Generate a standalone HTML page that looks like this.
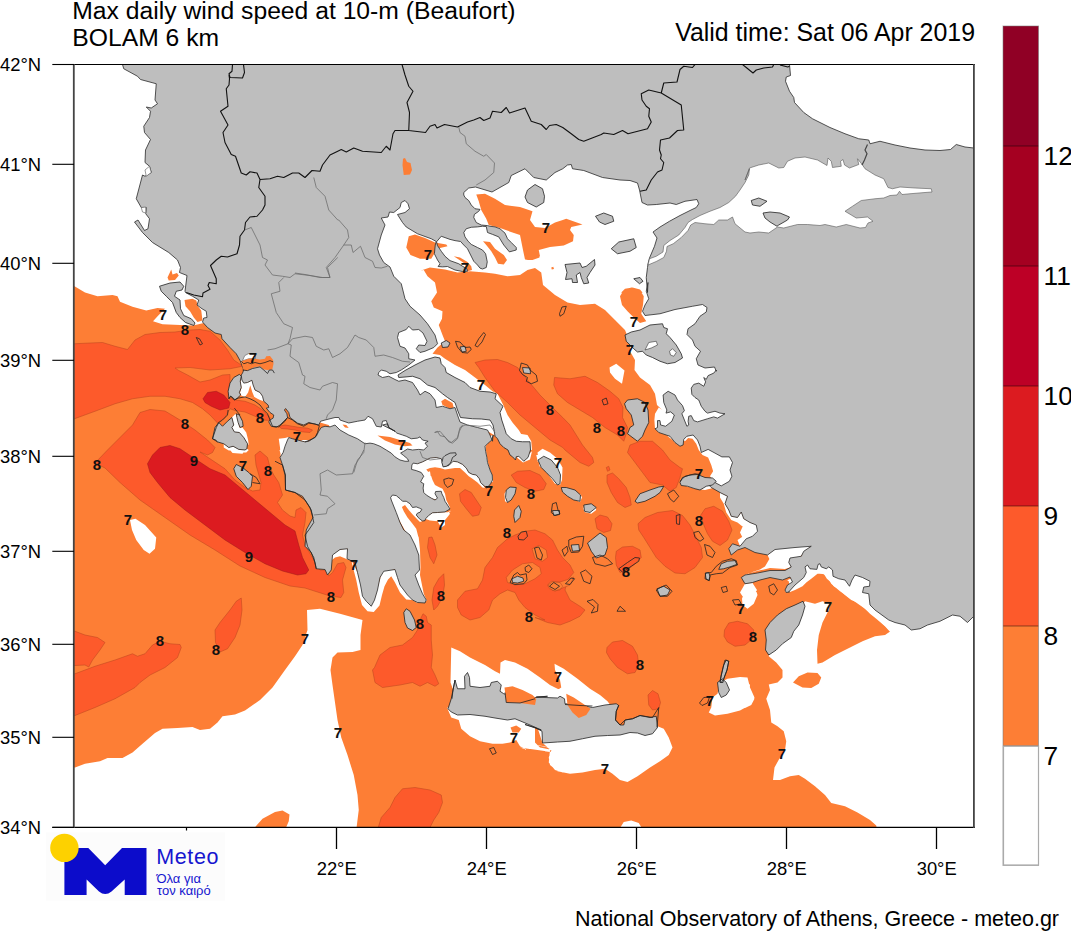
<!DOCTYPE html>
<html><head><meta charset="utf-8"><title>Max daily wind speed</title>
<style>
html,body{margin:0;padding:0;background:#fff;}
body{width:1071px;height:931px;overflow:hidden;position:relative;font-family:"Liberation Sans",sans-serif;}
svg text{font-family:"Liberation Sans",sans-serif;}
</style></head><body>
<svg width="1071" height="931" viewBox="0 0 1071 931" style="position:absolute;left:0;top:0">
<defs><clipPath id="fr"><rect x="74" y="65" width="900" height="762"/></clipPath></defs>
<g clip-path="url(#fr)">
<path d="M74,286.25 L74.5,286.25 L85,292.5 L97.5,296.25 L112.5,295 L117.5,296.25 L120,301.75 L132.5,306.75 L146.25,310.5 L157.5,308 L165,308.75 L158.75,315 L153,321.25 L162.5,324.25 L180,325 L192.5,325.5 L197.5,324.5 L203.75,323 L260,330 L330,300 L400,285 L422.5,270 L430,267.5 L445,269.5 L457.5,272.5 L470,271.25 L485,272.5 L495,273.75 L507.5,276.25 L520,275 L527.5,270 L535,268 L541.25,272.5 L543,285 L555,295 L567.5,302.5 L580,305 L595,303.75 L605,310 L615,320 L625,330 L630,342.5 L630,351.25 L635,360 L634.5,370 L640,377.5 L650,385 L655,393.75 L657,405 L670,417.5 L695,435 L745,430 L820,550 L825,569.5 L820,573.25 L826.25,575 L831.25,583.75 L840,591.25 L852.5,600 L865,608.75 L877.5,618.75 L890.5,631.25 L885,635 L875,636.25 L862.5,641.25 L850,647.5 L835,655 L822.5,662.5 L817.5,663.75 L817,650 L818.75,635 L822.5,622.5 L828.75,610 L830,603.75 L822.5,601.25 L815,603.75 L805,601.25 L782.5,630 L768.75,655 L768.75,656.25 L776.25,662.5 L782.5,670 L782.5,677.5 L777.5,682.5 L768.75,684.5 L770,690 L766.25,698.75 L770,710 L771.25,722.5 L777.5,726.25 L783.75,731.25 L786.25,741.25 L785,750 L780,757.5 L774.5,767.5 L773,780 L780,780 L790,776.25 L798.75,775 L805,778.75 L815,786.25 L825,795 L831.25,803 L845,806.25 L857.5,812.5 L870,820 L876.25,825.5 L877,830 L74,835Z" fill="#fd7e35" stroke="none"/>
<path d="M70,767.5 L75,767.5 L85,763.75 L100,761.25 L107.5,758 L122.5,758 L132.5,752.5 L142.5,743.75 L155,733 L162.5,728.75 L177.5,728 L192.5,727 L200,730 L210,728.75 L217.5,722.5 L222.5,716.25 L235,714.5 L245,710.5 L260,700 L272.5,687.5 L285,670 L295,656.25 L302.5,645 L307.5,630 L307,610 L320,608.75 L340,613.75 L362.5,620 L360.5,635 L360.5,650 L352.5,652 L337.5,652.5 L332.5,657.5 L330.5,670 L332.5,685 L335,702.5 L337.5,720 L341.25,737.5 L347.5,755 L353.75,775 L357.5,795 L358.75,810 L356.25,830 L70,835Z M423.75,270 L427.5,276.25 L435,282.5 L437,292.5 L431.25,301.25 L433.75,307.5 L442.5,311.25 L442,318.75 L438.75,325 L442.5,335 L445,341.25 L437.5,347.5 L432.5,353.75 L440,355 L445,358.75 L455,365 L465,370 L475,377.5 L485,385 L492.5,391.25 L497.5,393.75 L503,404.5 L507.5,415 L512.5,422.5 L518.75,430 L522.5,436.25 L528.75,439.5 L531.25,441.25 L532,450 L520,447.5 L495,435.5 L487.5,431.25 L445,425 L370,415 L370,280Z M318.75,412.5 L370,410 L400,427.5 L431.25,435 L431.25,455 L412.5,466.25 L395,463.75 L365,451.25 L330,433.75 L318.75,433.75Z M411.88,465 L413.12,463.12 L417.5,463.75 L422.5,461.88 L426.25,460 L430,458.12 L436.25,457.5 L441.25,458.75 L443.12,457.5 L445,455.62 L450,453.12 L455.62,452.75 L456.25,455 L453.12,461.25 L457.5,461.88 L462.5,464.38 L466.25,468.12 L468.75,472.5 L472.5,474.38 L476.25,475 L479.38,478.75 L480.62,482.5 L483.12,485 L485,488.12 L482.5,487.5 L477.5,482.5 L472.5,478.75 L468.75,476.25 L465,472.5 L460,468.12 L455,468.12 L450,468.75 L445,469.38 L440,468.12 L435,467.25 L430,468.12 L426.25,469.38 L428.75,472.5 L431.25,476.25 L432.5,480 L435,485 L438.75,486.88 L442.5,488.75 L445,493.75 L446.25,500 L450,507.5 L450,509 L440,500 L425,497.5 L420,482.5 L407.5,467.5Z M428.75,515 L432.5,513.12 L440,512.5 L448.75,511.88 L450,513.75 L447.5,516.88 L445,520 L440,520 L432.5,519.38 L428.75,517.5 L425,518.75Z M388.75,496.25 L390.62,495 L396.25,493.75 L402.5,500 L406.25,500 L410,502.5 L416.25,505.62 L423.12,509.38 L418.75,513.12 L417.5,515 L420,518.12 L422.5,521 L420,521.88 L417.5,519.38 L413.12,515 L408.75,510 L405,505 L401.88,506.88 L403.75,511.25 L407.5,517.5 L412.5,523.75 L416.25,528.75 L418.12,535.88 L418.75,537.5 L420,550 L420.5,567.5 L420,575 L423.75,593.75 L427,601.25 L417.5,595 L412.5,570 L407.5,535 L395,512.5 L390,497.5Z M493.12,435 L491.88,440 L488.12,443.12 L485.62,446.25 L486.25,452.5 L487.5,460 L488.75,466.25 L490.62,471.25 L492.5,476.25 L493.12,481.25 L491.88,482.5 L488.75,480 L482.5,457.5 L482.5,438.75Z M332,560 L332.5,554.5 L340,549.5 L347.5,548.75 L348.75,560 L340,556.25 L335,557.5Z M357.5,572.5 L365,597.5 L371.25,605 L375,597.5 L382.5,570 L397.5,570 L407.5,590 L417.5,603 L412.5,600 L406.25,599.5 L400,592.5 L395,582.5 L391.25,576.25 L388,579.5 L384.5,586.25 L382,595 L379.5,605.5 L373.75,612 L367.5,611.25 L362,605 L358.75,592.5 L356.25,580 L353,567.5 L351.25,560Z M425,518.75 L435,514.5 L445,513.75 L451.25,510.5 L445,516.25 L445,525 L441.25,527.5 L437.5,521.25 L430,520.5Z M423.75,473.75 L430,471.25 L431.25,480 L435,487.5 L440,492.5 L438.75,498.75 L442.5,503.75 L438.75,502.5 L435,496.25 L430,495 L425,487.5 L421.25,480Z M278.75,438.75 L285,438.12 L288.75,436.88 L291.25,437.5 L290,447.5 L285,460 L280.62,456.25 L280,447.5Z M298.75,438.12 L303.75,439.38 L308.75,440 L306.88,442.25 L302.5,441.25Z M320.62,420.62 L325,419.5 L330,418.5 L335,417.5 L338.88,418.75 L342.5,420 L342.5,426.25 L338.88,426.25 L335,423.75 L327.5,421.25 L322.5,420 L320,422.5Z M241.25,375.62 L242.5,380 L245,383.12 L248.75,381.88 L251.88,380.25 L253.5,385.62 L255.25,390.62 L260,392.25 L262.75,396.5 L263.75,401.25 L260,400 L257.5,398.75 L254.38,396.88 L247.5,397.75 L245,396.88 L241.25,395.62 L240,392.5 L241.5,388.12 L240.62,381.88Z M243.12,360 L245,355.62 L248.75,353.75 L248.12,358.75 L245,360Z M231.88,417.5 L235.62,413.75 L237.75,420 L239.38,427.5 L242.5,427.5 L246.25,432.5 L248.12,440 L248.75,445 L247.5,443.75 L243.75,437.5 L239.38,432.5 L234.38,431.88 L231.88,427.5 L233.75,425Z M223.75,443.75 L228.75,447.5 L233.12,446.25 L238.75,449.38 L245,450 L246.88,448.75 L248.75,450 L246.25,452.5 L240,452.5 L233.75,450 L228.75,450.62 L223.75,447.5Z M130,520 L135.5,518.75 L145,525 L156.25,537.5 L155,548.75 L149.5,553.75 L143.75,550 L136.25,540 L132,530Z M230,450 L245,450 L242.5,453.75 L232.5,453Z M279.5,450 L285,450 L284.5,457.5 L281.25,456.25Z M537.5,452.5 L542.5,448.75 L550,452.5 L557.5,458.75 L562.5,467.5 L562,480 L560,485 L555,483.75 L545,470 L539.5,466.25Z M520,433.75 L527.5,435 L531.25,441.25 L528.75,445 L520,445Z M536.25,455 L545,451.25 L555,457.5 L561.25,465 L562,475 L560,476.25 L555,468.75 L547.5,460 L542.5,457 L538,462.5Z M575,496.25 L580.5,494.5 L582,497.5 L580,502 L568.75,497.5Z M585,510 L590,512.5 L595,506.25 L596.25,510 L591.25,513.75 L584.5,512 L582.5,506.25Z M504.5,493.75 L507,489.5 L506.25,500 L508,503 L505,501.25Z M609.5,367.5 L616.25,363.75 L624.5,370.5 L622,383.75 L615,378.75 L610,372.5Z M682.5,440 L686.88,435 L693.75,433.75 L698.75,439.38 L701.88,450 L708.12,448.12 L715,451.88 L721.88,455.62 L730.62,455.62 L734.38,462.5 L731.88,470 L733.75,476.25 L730.62,482.5 L726.25,485 L721.25,486.88 L715,482.5 L710,476.25 L713.12,471.25 L711.25,465 L708.12,457.5 L702.5,455 L698.75,450 L696.25,443.75 L692.5,438.75 L688.12,438.12 L685,441.25Z M658.75,407.5 L666,411.88 L670.62,410.62 L675.62,415 L673.12,421.88 L665.62,427.5 L660.62,426.25 L657.5,428.75 L655,428.75 L654.38,420 L655,413.75Z M666.88,435.62 L670,435.62 L675.62,441.88 L678.12,445.62 L672.5,440Z M690,485 L700,487.5 L710,485 L715,487.5 L705,490 L695,488.75 L682.5,485Z M720,492.5 L727.5,496.25 L725,503.75 L728.75,510 L731.25,516.25 L737.5,517.5 L741.25,512 L743.75,518.75 L750,522.5 L756.25,525 L760,531.25 L755,537.5 L746.25,540 L740,546.25 L737.5,540 L745,535 L743.75,527.5 L737.5,522.5 L731.25,520 L726.25,512.5 L723.75,503.75 L720,497.5Z M767.5,555 L775,548.75 L787.5,546.88 L812.5,545 L805,551.25 L800,556.88 L790.62,558.75 L788.75,561.88 L791.25,566.88 L785,569 L770,568.12 L758.75,570.62 L750,573.12 L742.5,577.5 L740.62,578.75 L745,575 L752.5,571.88 L760,569.38 L765,566.5 L769.38,559Z M787.5,580 L792.5,578.12 L796.88,580.62 L794.38,586.25 L788.75,590.62 L785,591.88 L786.25,586.25Z M743.75,593.75 L747.5,588.75 L755,587 L757.5,595 L753.75,603.75 L747.5,608.75 L742.5,605 L742,598.75Z M745,521.25 L747.5,518.75 L750,525 L756.25,523.75 L757.5,531.25 L752.5,536.25 L747.5,541.25 L745,542.5 L740,532.5Z M788.75,572.5 L805,567.5 L807.5,575 L801.25,585 L792.5,587.5 L787.5,585 L792.5,581.25 L795,575Z M745,583.75 L752.5,583 L757,590 L752.5,597.5 L745,600 L740,592.5Z M451.25,647.5 L460,651.25 L470,657.5 L485,665 L495,671.25 L500,673.75 L500.5,662.5 L505,660 L515,662.5 L527.5,668.75 L540,677.5 L550,685 L560,690 L557.5,690 L561.25,687.5 L560,680 L555,670 L554.5,663.75 L563.75,668.75 L577.5,678.75 L590,688.75 L600,695 L607.5,701.25 L611.25,706.25 L595,712.5 L545,705 L495,695 L455,695 L450.5,682.5Z M447,707.5 L451.25,717.5 L458.75,720 L461.25,728.75 L470,736.25 L480,741.25 L492.5,743.75 L502.5,743.75 L510,742.5 L516.25,740 L520,746.25 L527.5,750 L535,745 L548.75,747.5 L550,743.75 L557.5,730 L645,730 L657.5,726.25 L663.75,728.75 L668.75,737.5 L672.5,747.5 L668.75,755 L660,761.25 L650,767.5 L637.5,776.25 L627.5,782 L620,780 L612.5,773.75 L605,768.75 L595,770 L582.5,772.5 L570,773.75 L557.5,771.25 L550,765 L548.75,757.5 L551.25,750 L545,746.25 L535,745 L527.5,750 L520,747.5 L555,752.5 L550,750 L545,745 L542.5,743 L535,720 L470,712.5Z M550,750 L562.75,745 L567.5,755 L562.75,772.5 L555,770 L548.75,762.5Z M618.75,830 L623.75,822 L631.25,820.5 L638.75,823 L643,830Z M712.5,697.5 L717.5,693.75 L720,682.5 L727.5,678.75 L740,677 L747.5,677.5 L750,687.5 L754.5,697.5 L750,705 L740,710.5 L727.5,713.75 L715,715.5 L708.75,712.5 L711.25,707.5Z M745,677.5 L750,685 L749.5,692.5 L754.5,698.75 L751.25,705 L745,708 L735,702.5 L735,682.5Z M535,725 L545,725 L552.5,730 L552.5,750 L540,747.5 L535,742.5Z M521.25,455 L527.5,455 L532,451.25 L530,459.5 L523,462.5 L517.5,458 L515.5,453.75Z M793.75,583.75 L802.5,575 L806.25,562.5 L820,561.25 L830,565 L833.75,572.5 L845,577.5 L850,582.5 L855,573.75 L862.5,576.25 L870,582.5 L871.25,593.75 L870,606.25 L877.5,613.12 L887.5,620 L893.75,627.5 L890.62,632.5 L885,626.25 L876.25,618.75 L870,613.75 L863.75,607.5 L857.5,602.5 L851.25,600 L845,595 L840,590 L833.75,586.25 L831.25,582.5 L826.88,578.75 L823.75,573.75 L817.5,573.75 L811.25,578.75 L806.25,582.5 L802.5,586.25 L795,590 L788.75,592.5Z" fill="#fff" stroke="none"/>
<path d="M408.75,236.25 L415,234.5 L425,238 L435,242.5 L446.25,244.5 L447.5,246.25 L440,248 L436.25,248 L435,252.5 L431.25,258.75 L420,258.75 L410.5,255 L406.25,247.5Z M453.75,256.25 L460,257.5 L467.5,262 L471.25,266.25 L472,270 L467.5,271.25 L465,263.75 L458.75,259.5Z M483,241.25 L490,242 L495,248.75 L503.75,255 L507,260 L503.75,264.5 L498,263.75 L495,257.5 L491.25,251.25 L486.25,245Z M476.25,194.5 L485,193.75 L495,198.75 L505,205 L520,207 L532.5,211.25 L530,220 L535,227 L545,228 L555,222.5 L562.75,220 L566.25,218.75 L582.5,224.5 L571.25,227 L570,230 L573.75,235 L573,241.25 L563.75,245.5 L550,247 L538.75,250 L540,256.25 L533.75,259.5 L526.25,260 L538.75,252.5 L539.5,257.5 L532.5,260 L525,259.5 L523,250 L520,235 L512.5,232.5 L500,228 L488.75,225 L486.25,218.75 L481.25,210 L478.75,201.25Z M551.25,267.5 L553.25,266.75 L554,269 L551.75,269.5Z M184.5,300 L192.5,298.75 L196.25,300.5 L198,306.25 L201.25,310.5 L202.5,320.5 L197.5,322 L193.75,317.5 L190,311.25 L185.5,306.25Z M171.25,269.5 L172.5,274.5 L177,273 L178.75,275.5 L175,280 L168.75,280.5 L167.5,277.5Z M620,296.25 L623.75,290 L631.25,287.5 L640,290 L643.75,296.25 L643,305 L641.25,313.75 L646.25,321.25 L640,323 L633.75,317.5 L627.5,311.25 L622,305Z M621.25,292.5 L625,288.75 L632.5,287.5 L640,289.5 L642.5,292.5 L637.5,296.25 L627.5,296.25Z M295,423 L305,425 L312.5,423 L320,422.5 L328.75,425 L330,427.5 L322.5,428.75 L316.25,433.75 L310,440 L300,440 L295,438.75 L280,435 L280,427.5Z M342.5,424.5 L346.25,425 L348.75,428 L345,427.5Z M377.5,435.5 L390,437 L400,440 L410,443 L412.5,445.5 L405,446.25 L395,444.5 L385,440.5Z M441.25,401.25 L445,398.75 L452.5,403 L453.75,407.5 L450,408.75 L442.5,405Z M793,682.5 L798.75,676.25 L807.5,672.5 L817.5,673 L821.25,677.5 L818.75,683.75 L811.25,688 L802.5,687.5Z M252.5,830 L262.5,818.75 L275,812 L282.5,810.5 L289.5,814.5 L288.75,821.25 L285,830Z M510.5,727.5 L516.25,725.5 L521.25,728.75 L518.75,732.5 L512.5,732.5Z M757.5,590 L762.5,581.25 L772.5,577.5 L782.5,578 L788.75,581.25 L789.5,586.25 L785,591.25 L775,600 L760,600Z" fill="#fd7e35" stroke="none"/>
<path d="M65,343.75 L74.5,343.75 L90,343 L102.5,342.5 L115,346.25 L127.5,349.5 L135,340 L145,334.5 L160,332.5 L175,332 L190,330 L200,329.5 L210,331.25 L220,340 L227.5,350 L233.75,360 L241.25,365 L242.5,366.25 L230,368.75 L210,370 L190,367.5 L175,368 L178.75,370.5 L187.5,375 L200,382 L210,380 L222.5,375 L230,374.5 L230,380 L228.75,390 L228,397.5 L235,400 L245,401.25 L255,405 L262.5,410 L270,417.5 L270,420.5 L262.5,420 L255,416.25 L245,412 L235,410.5 L230,408.75 L225,417.5 L217.5,423 L210,415 L202.5,408.75 L192.5,402.5 L180,398.75 L165,396.25 L150,396.25 L132.5,398.75 L115,403.75 L95,411.25 L74.5,418.75 L65,420Z M95,463 L107.5,450 L120,437.5 L132.5,425 L140,412.5 L150,409.5 L165,411 L180,420 L195,430 L207.5,440 L215,447.5 L212.5,452.5 L207.5,455 L200,452 L210,458.75 L225,468.75 L235,480 L245,487.5 L252.5,491 L260,490 L261,482.5 L256,465 L255,455 L260,451 L267.5,457.5 L270,467.5 L273.75,475 L278.75,482.5 L282.5,495 L277.5,502.5 L282.5,510 L290,516 L295,517.5 L296,510 L301,507.5 L306,512.5 L305,522.5 L302.5,535 L305,545 L313.75,560 L320,570 L325,570 L328.75,576 L332.5,572.5 L337.5,563.75 L343.75,562.5 L346,567.5 L342.5,580 L343.75,592.5 L341,597.5 L330,596 L317.5,592 L305,588 L290,586 L265,577.5 L240,566 L215,550 L190,535 L165,517.5 L140,500 L120,482.5 L105,468Z M241.25,598 L242,610 L240,625 L235,637.5 L227.5,648.75 L220,652 L215.5,642.5 L215,630 L220,622.5 L230,610 L236.25,601.25Z M65,676.25 L75,673.75 L95,666.25 L115,660 L132.5,653.75 L137.5,656.25 L145,653.75 L152.5,645 L160,641.25 L170,643.75 L180,644.5 L181.25,647.5 L177.5,657.5 L165,667.5 L150,675 L140,682.5 L135,687.5 L115,698.75 L95,707.5 L75,715.5 L65,717.5Z M65,631.25 L75,631.25 L85,635 L97.5,637.5 L105,642.5 L100,650 L92.5,660 L88.75,667 L85,665 L75,665.5 L65,665.5Z M475,362.5 L485,360 L497.5,359.5 L507.5,362.5 L517.5,367.5 L527.5,380 L540,395 L555,410 L562.75,417.5 L570,425 L582.5,445 L592.5,457.5 L593.75,462.5 L588.75,466.25 L580,462.5 L565,450 L562.75,447.5 L550,440 L535,427.5 L520,415 L507.5,402.5 L495,391.25 L485,377.5 L478.75,367.5Z M554.5,377.5 L570,378.75 L585,376.25 L597.5,382.5 L610,391.25 L618.75,398.75 L623,407.5 L622.5,417.5 L627.5,427.5 L626.25,433.75 L623.75,441.25 L617.5,435 L605,427.5 L592.5,417.5 L580,410 L567.5,402.5 L557.5,393.75 L553.75,385Z M630,445 L640,441.25 L652.5,441.25 L662.5,450 L670,460 L680,467.5 L682.5,468.75 L680,477.5 L676.25,487.5 L670,491.25 L662.5,485 L650,482.5 L642.5,472.5 L635,462.5 L627.5,452.5Z M607,475 L612.5,473 L618.75,478.75 L626.25,487.5 L630,497.5 L631.25,505 L625,507.5 L617.5,502.5 L611.25,492.5 L607,482.5Z M606.25,467.5 L608.75,466.25 L610,470 L607.5,471.25Z M374.5,667.5 L380,655 L390,647.5 L402.5,645 L412.5,637.5 L417.5,630 L420,620 L423,613.75 L426.25,616.25 L427.5,622.5 L431.25,625 L431.25,640 L432.5,655 L431.25,667.5 L435,675 L438.75,683.75 L435,686.25 L427.5,682.5 L420,686.25 L412.5,682.5 L400,685 L382.5,687.5 L375,682.5 L372.5,670Z M428.75,537.5 L432,537 L435,545 L437,555 L433.75,563.75 L430,557.5 L427.5,547.5Z M443.75,573.75 L444.5,585 L442.5,597.5 L437.5,606.25 L433.75,610 L432,600 L433.75,587.5 L438.75,578.75Z M459.5,493.75 L465,489.5 L471.25,492.5 L476.25,500 L481.25,507.5 L478.75,515 L472.5,516.25 L466.25,508.75 L460.5,501.25Z M511.25,475 L517.5,471.25 L530,470.5 L540,475 L546.25,483.75 L543.75,489.5 L535,491.25 L525,487.5 L516.25,482.5Z M457.5,600 L465,591.25 L477.5,588.75 L482.5,580 L485,567.5 L492.5,557.5 L497.5,547.5 L507.5,538.75 L515,535 L525,531.25 L535,530 L545,533.75 L552.5,540 L557.5,550 L562.5,557.5 L570,565 L573.75,572.5 L567.5,580 L565,590 L570,600 L580,606.25 L585,610 L580,616.25 L570,621.25 L560,625 L547.5,622.5 L535,617.5 L545,620 L535,615 L525,607.5 L518.75,600 L515,592.5 L507.5,590 L500,593.75 L492.5,600 L488.75,610 L480,617.5 L470,620 L461.25,615 L457.5,607.5Z M595,518.75 L600,515 L607.5,517 L612,523.75 L610.5,530.5 L603.75,532.5 L597,528.75Z M638,523.75 L645,517.5 L657.5,512.5 L672.5,510.5 L682.5,515.5 L690,525 L695,535 L701.25,547.5 L702.5,557.5 L695,567.5 L685,573.75 L675,573 L665,566.25 L656.25,557.5 L650,547.5 L643.75,537.5 L638.75,530Z M700.5,515.5 L705,508.75 L713.75,506.25 L722.5,511.25 L728.75,521.25 L732,530 L727.5,540 L720,545.5 L712.5,541.25 L707.5,533.75 L703.75,525Z M616.25,551.25 L622.5,547 L632.5,546.25 L640,550 L641.25,557.5 L635,563.75 L627.5,570 L620,572.5 L616.25,565 L615.5,557.5Z M607,647.5 L612.5,642 L622.5,640.5 L632.5,646.25 L637.5,655 L638.75,665 L635,672.5 L627.5,673.75 L617.5,667.5 L610,658.75 L606.5,652.5Z M724.5,630 L728.75,623 L737.5,621.25 L747.5,623.75 L753.75,630 L752.5,638.75 L745,645 L735,646.25 L727.5,642 L724,636.25Z M377.5,830 L381.25,817.5 L390,807.5 L395,797.5 L402.5,788.75 L415,787.5 L430,790 L441.25,795 L442.5,802.5 L438.75,812.5 L433.75,820 L428.75,830Z M648,695 L652.5,690.5 L658,693.75 L660.5,702.5 L658.75,708.75 L652.5,710 L648.75,705Z M278.75,426.25 L285,425 L292.5,426.25 L300,427.5 L307.5,428.12 L312.5,430 L310,432.5 L302.5,431.88 L295,430 L287.5,429 L281.25,428.5Z" fill="#fd5a2b" stroke="#b8451f" stroke-width="0.5"/>
<path d="M506.25,577.5 L512.5,570 L522.5,563.75 L532.5,562.5 L540,567.5 L541.25,573.75 L535,578.75 L525,583.75 L515,585 L507.5,582.5Z M532,548.75 L538.75,545.5 L546.25,550 L547.5,557.5 L542.5,561.25 L535,558.75Z M548,585 L552.5,582 L560,582.5 L562.75,586.25 L560,590 L552.5,590.5Z M547.5,585 L551.25,581.25 L560,582 L566.25,580 L573.75,577 L570,585 L562.5,588 L555,591.25 L549.5,588.75Z" fill="#fd7e35" stroke="#b8451f" stroke-width="0.5"/>
<path d="M147.5,463.75 L152.5,455 L160,447.5 L170,445.5 L180,448.75 L195,458.75 L210,468.75 L225,475 L240,487.5 L255,500 L270,512.5 L285,525 L295,531 L298.75,545 L302.5,557.5 L308.75,570 L306,573.75 L297.5,575 L282.5,571 L265,563.75 L245,552.5 L225,540 L205,525 L185,510 L170,497.5 L157.5,482.5 L150,472.5Z M203,398.75 L207.5,392.5 L216.25,391.25 L223.75,395 L230,402.5 L228.75,408 L220,410 L211.25,406.25 L205,402.5Z" fill="#dc1b20" stroke="#9b1a18" stroke-width="0.5"/>
<path d="M122,60 L789,60 L789.5,64.5 L790.5,75.5 L786.25,77 L785.5,81.25 L789.5,91.25 L793.75,97.5 L794.5,102.5 L803.75,112.5 L812.5,118.75 L830,127.5 L845,133.75 L858.75,138.75 L868.75,140 L870,143.75 L880,141.25 L895,145 L910,148 L925,150 L940,150.5 L950.5,149.5 L956.25,144.5 L965,147 L973.75,148 L980,148 L980,615 L977.5,615 L973.75,616.25 L967.5,622.5 L960,616.25 L952.5,615 L940,621.25 L927.5,625 L920,628.75 L911.25,630 L905,625 L895,622.5 L888.75,620 L875,610 L870,605 L868.75,593.75 L862.5,592.5 L863.75,587 L869.5,586.25 L870,581.25 L862.5,577.5 L855,575 L852,580 L849.5,586.25 L845,580 L838.75,578.75 L833,576.25 L832.5,570 L828.75,566.88 L826.25,568.75 L821.25,566.88 L820,563.75 L818.12,564.38 L816.88,569.38 L810,568.75 L807.5,565 L805,566.88 L806.25,572.5 L803.75,577.5 L795,585 L788.75,591.88 L789.5,592 L786.25,592.5 L785,590 L787.5,585 L792.5,582 L790,577 L782.5,580 L770,577.5 L760,580 L752.5,582.5 L745,583.75 L741.25,577.5 L745,575 L757.5,573 L770,570.5 L785,570.5 L791.25,567 L788.75,562.5 L790,558 L801.25,556.25 L803.75,551.25 L811.25,546.25 L795,547.5 L775,549.5 L767.5,555 L755,552.5 L745,547.5 L737.5,550 L731.25,555 L728.75,548.75 L732.5,543.75 L740,546.25 L746.25,538.75 L752.5,536.25 L757.5,531.25 L756.25,525 L750,522.5 L743.75,518.75 L741.25,512 L737.5,517.5 L731.25,516.25 L728.75,510 L725,503.75 L727.5,496.25 L720,492.5 L711.25,487.5 L705,481.25 L710,478.75 L715,482.5 L721.25,485.88 L725,483.75 L729.38,481.25 L731.88,476.25 L730,470 L732.5,462.5 L729.38,456.88 L721.88,456.88 L715,453.12 L708.12,449.38 L701.25,452.5 L700,446.25 L697.5,440 L693.12,435 L686.88,436.25 L683.75,439.38 L683.12,445 L680,446.25 L675,442.5 L670,436.25 L666.25,435 L658.75,432.5 L655,428.75 L657.5,427.5 L657.5,420.62 L660,420.62 L660.62,425 L665.62,426.25 L671.88,421.25 L674.38,415 L670.62,411.88 L666,413.12 L666.88,410 L663.75,402.5 L663.12,395 L668.12,391.25 L675,395 L677.5,400 L682.5,405.62 L684.38,410.62 L681.88,413.75 L684.38,420 L686.88,426.25 L688.75,425 L688.12,421.25 L688.75,416.25 L691.25,415.62 L693.75,420.62 L697.5,421.88 L707.5,418.75 L713.75,416.88 L717.5,418.12 L725,413.75 L720,413.12 L715,411.25 L707.5,413.12 L705,411.25 L701.25,406.25 L698.75,400 L695,397.5 L691.88,394.38 L691.25,388.12 L693.75,384.38 L698.75,383.12 L703.75,386.25 L705.62,381.88 L703.75,377.5 L706.25,379.38 L708.12,375.62 L713.75,373.12 L716.25,370 L716.25,371.25 L714.5,367 L705,368 L698,365 L696.25,358.75 L700.5,351.25 L695,346.25 L692.5,340 L687,334.5 L688,328.75 L695,323.75 L700,316.25 L706.25,312 L707,307.5 L702.5,304.5 L692.5,306.25 L675,309.5 L660,313.75 L645,315.5 L642.5,311.25 L645,305 L648.75,298.75 L646.25,291.25 L648,282.5 L647.5,292.5 L646.25,277.5 L647.5,267.5 L648,263.75 L649.5,258 L654.5,246.25 L657,238 L653,232 L660,227 L669.5,221.25 L680,215.5 L690,210.5 L696.25,207.5 L698.75,203.75 L697,199.5 L685,201.25 L676.25,204.5 L670,203 L656.25,204.5 L647.5,205 L642,202.5 L639.5,190 L637.5,183 L630,180.5 L620,180 L602.5,177.5 L583.75,170.5 L572.5,168.75 L571.25,164.5 L567.5,165 L562.75,168.75 L555,172.5 L546.25,180 L533.75,177.5 L530,173.75 L525,168.75 L511.25,175.5 L508.75,182.5 L492,192 L475.5,187 L468.75,188 L463.75,192.5 L463.75,195 L465,197.5 L468.75,200.62 L471.25,205 L475,208.75 L480,209.38 L478.75,211.25 L474.38,214.38 L473.75,217.5 L476.25,222.5 L481.25,225 L487.5,225.62 L490,226.25 L495,226.88 L500,228.75 L505,233.12 L507.5,238.75 L511.25,242.5 L516.25,247.5 L516.25,250 L509.38,251.88 L503.75,245 L498.75,236.88 L492.5,234.38 L487.5,232.5 L486.25,226.5 L482.5,226.25 L477.5,226.88 L471.25,227.25 L466.25,228.75 L463.75,232.5 L465,236.88 L468.12,241.25 L471.25,244.38 L477.5,247.5 L482.5,250 L485.62,253.75 L487.25,261.88 L486.25,267.5 L482.5,269 L480,268.12 L477.5,265 L473.75,261.25 L470.62,255 L467.5,248.75 L463.75,245 L460.62,241.5 L455,240.62 L450,239.38 L441.25,236.25 L436.5,241.88 L437.5,245.62 L441.25,251.25 L445,256.25 L450,260.62 L458.75,263.75 L462.5,266.25 L466.88,268.75 L467.5,271.25 L462.5,271.5 L455,270 L447.5,266.5 L442.5,266.88 L438.12,266.5 L440,263.75 L437.5,260 L434.38,253.75 L435.25,245 L436.25,241.5 L431.25,238.75 L417.5,233.75 L406.25,227 L402.5,222.5 L397.5,214.5 L405,212.5 L409.5,208.75 L408,203.75 L405,200.5 L401.25,202.5 L400,207.5 L393.75,212.5 L389.5,212 L388,217 L381.25,218 L385,225 L381.25,235 L377.5,248.75 L379.5,255 L383.75,262.5 L390,267 L393.75,276.25 L401.25,283.75 L405,298.75 L410,306.25 L420,315 L427.5,323.75 L435,335 L437.5,343.75 L433.75,347.5 L425,351.25 L420,352.5 L416.25,348.75 L418.75,345 L425,345.5 L427,341.25 L423,333 L418.75,329.5 L412.5,330 L408.75,326.25 L406.25,329.5 L398.75,332.5 L397.5,337.5 L400,346.25 L405,348 L408.75,353.75 L408.75,358.75 L415,360 L408.75,365 L401.25,370 L396.25,372.5 L390,373.75 L386.25,371.25 L381.25,370 L378.75,372.5 L378,375 L382.5,377.5 L388.75,376.25 L395,379.5 L398.75,381.25 L405,380 L412.5,382.5 L417.5,390 L420,395 L425,391.25 L430,393.75 L435,400 L436.25,407.5 L442.5,406.25 L450,408.75 L455,407.5 L457.5,415 L460,422 L467.5,425 L477.5,427.5 L487.5,430 L490,435 L492.5,441.25 L493.12,435 L491.88,440 L488.12,443.12 L485,446.25 L485.62,451.25 L486.88,457.5 L487.5,462.5 L488.75,466.25 L490,470 L492.25,475 L492.5,480 L490.62,483.75 L486.88,488.12 L483.12,485 L480.62,482.5 L479.38,478.75 L476.25,475 L472.5,474.38 L468.75,472.5 L466.25,468.12 L462.5,464.38 L457.5,461.88 L453.12,461.25 L451.25,463.12 L448.75,465.62 L443.75,466.5 L442.25,462.5 L441.25,458.75 L436.25,457.5 L430,458.12 L426.25,460 L422.5,461.88 L417.5,463.75 L413.12,463.12 L411.88,465 L411.5,469.38 L416.25,470.62 L421.25,472.5 L423.75,476.25 L421.88,479.38 L420.62,481.88 L423.75,483.75 L423.12,488.12 L423.75,492.5 L426.25,495 L431.25,498.12 L435,500 L437.5,498.12 L435,493.75 L435.62,491.5 L441.25,491.25 L441.88,493.75 L443.75,497.5 L445,501.25 L447.5,505 L450,509 L445,511.88 L437.5,512.5 L432.5,512.75 L428.5,515.62 L425.62,518.75 L425,520.62 L422.5,521 L419.38,518.75 L416.25,515 L417.5,513.12 L420,512.25 L421.88,509.38 L419.38,508.12 L416.25,506.88 L412.5,507.5 L410,503.75 L406.25,501.25 L402.5,501.25 L400,498.75 L396.25,495.62 L392.5,495 L390.62,497.5 L391.25,500 L396.25,512.5 L400,522.5 L403.75,530 L410,535 L415,545 L418.75,555 L419.5,570 L415,575 L418.75,585 L422.5,593.75 L426.25,600 L425,603 L417.5,602.5 L412.5,600 L407.5,595 L400,585 L397.5,577.5 L395,569.5 L383.75,571.25 L380,577.5 L377.5,590 L374.5,600 L371.25,606.25 L366.25,601.25 L362.5,596.25 L360.5,585 L357.5,572.5 L355,562.5 L347,558.75 L347.5,548.75 L340,549.5 L332.5,555 L331.25,570 L327.5,575 L325,569.5 L316.25,568.75 L315,562.5 L311.25,552.5 L305,546.25 L306.25,530 L313,517.5 L310,507.5 L302.5,496.25 L295,492.5 L285.5,490 L285,475 L282.5,465 L280,457.5 L283.12,452.5 L285,446.25 L287.5,440 L288.75,437.5 L292.5,438.75 L297.5,440 L305,441.88 L308.75,441.25 L312.5,438.75 L316.25,436.25 L318.75,431.25 L321.25,427.5 L325,426.25 L330,426.88 L335,425 L340,430 L348.75,435 L357.5,438.75 L365,443.75 L370,443.12 L373.75,443.75 L380,446.25 L386.25,450 L391.25,453.12 L395,456.88 L400,460 L405,461.25 L408.75,461.25 L407.5,458.75 L403.75,455.62 L400.62,453.12 L403.75,451.25 L407.5,449 L412.5,450 L418.75,449.38 L423.75,450 L427.5,446.25 L425,443.12 L428.12,441.25 L422.5,440 L420,436.88 L417.5,438.12 L411.25,438.75 L406.25,436.25 L402.5,435 L396.88,433.12 L395,431.25 L388.75,427.5 L387.5,423.75 L382.5,425 L395,431.25 L388.75,427.5 L386.25,420.5 L382.5,421.25 L381.25,427 L376.25,426.25 L372.5,418.75 L368,416.25 L365,420 L357.5,421.25 L348.75,423 L340,420 L338.88,417.5 L335,417.5 L330,418.75 L325,420 L320.62,421.25 L318.75,425 L313.75,423.75 L308.75,422.5 L303.75,425 L297.5,423.12 L295,421.25 L290,417.5 L288.75,412.5 L285.62,408.5 L284.38,410 L286.88,413.75 L287.5,417.5 L285,420 L280,425 L276.25,427.25 L271.25,426.25 L268.75,421.88 L270,420 L273.12,418.12 L273.75,415 L270,412.5 L266.25,408.12 L268.75,407.5 L268.12,405 L263.75,401.25 L262.5,396.25 L260,392.5 L255,390 L253.12,385 L251.88,380.25 L247.5,382.5 L243.75,383.12 L241.88,380 L241.25,375 L242.5,373.12 L243.75,370 L241.88,365 L240,360.5 L236.25,353.75 L230,347.5 L222,338.75 L221.25,334.5 L215,333 L207.5,327.5 L202.5,322 L203.75,318 L207,317.5 L206.25,311.25 L202,308.75 L197,305 L198.75,300 L192.5,296.25 L185.5,292.5 L185,291.25 L187,275.5 L179.5,272.5 L180.5,267.5 L177.5,260 L168.75,252.5 L152.5,242.5 L142.5,232.5 L134.5,222 L138,220 L144.5,230.5 L148,228.75 L149.5,218.75 L145.75,213.75 L146.25,207.5 L141.25,207.5 L136.25,198.75 L142.5,175 L145,176.25 L151.25,172.5 L149.5,166.25 L145,162.5 L145.5,150 L150.5,139.5 L144.5,132.5 L143.75,126.25 L149.5,117.5 L150.5,111.25 L146.25,107 L151.25,108 L157.5,103.75 L155,100 L156.25,83.75 L140.5,79.5 L137.5,76.25 L123.75,68.75 L122.5,64.5Z" fill="#bebebe" stroke="#2a2a2a" stroke-width="0.8" stroke-linejoin="round"/>
<path d="M745,180 L749.5,168 L758.75,165 L768.75,163 L778.75,168 L783.75,167.5 L787.5,161.25 L795,158 L805,157 L817.5,160 L827,165.5 L828,158 L831.25,161.25 L832.5,167.5 L841.25,166.25 L840.5,161.25 L843,159.5 L844.5,165 L849.5,168 L858.75,164.5 L857.5,158.75 L860.5,162.5 L862.5,165 L865,168.75 L875,175 L883.75,178.75 L888,187.5 L892.5,188.75 L900,187 L915,188 L931.25,188.75 L932,192 L925,192.5 L910,193.75 L902,194.5 L899.5,191.25 L897,195 L890,195.5 L883.75,198 L875,198.75 L861.25,200.5 L852.5,206.25 L845,211.25 L851.25,215 L856.25,218 L867.5,217 L873,221.25 L868,223 L865.5,227.5 L860,228 L846.25,224.5 L836.25,227 L825,224.5 L820,225.5 L807.5,224.5 L797.5,224.5 L783.75,228 L777.5,227 L768.75,233 L758.75,232 L750,233 L745,232 L735,223.75 L732.5,217 L727.5,220 L718.75,220 L713.75,224.5 L705,223.75 L695,222.5 L690.75,225 L688,230.5 L681.25,237.5 L673.25,243.75 L667,246.5 L666.5,251.25 L663.75,257.5 L656.25,261.5 L648,265 L649.5,258.75 L656.25,256.25 L663,252 L663.75,245.5 L670,240.5 L678.75,235 L685,227.5 L688,222.5 L692.5,219.5 L700,215.5 L710,211.25 L720,207.5 L728.75,202.5 L735.5,196.25 L740,190 L745,182.5 L748.75,175 L749.5,168.75Z M145,170 L149.5,166.25 L151.25,172.5 L146.25,176.25Z M141.25,207.5 L145.75,207 L145.75,213 L142.5,212Z M242.5,360.62 L244.75,355.62 L248.75,353.5 L255,353.5 L255.62,358.75 L248.75,358.75 L245,360Z" fill="#fff" stroke="#555" stroke-width="0.6"/>
<path d="M867.5,144.5 L865,150 L867,153.75 L864.5,160 L862,165" fill="none" stroke="#444" stroke-width="1.2"/>
<path d="M159.5,286.25 L170,283 L180,282 L183.75,286.25 L182,290 L176.25,291.25 L174.5,296.25 L180,300 L180.5,308.75 L183.75,315.5 L191.25,318.75 L195,323 L193.75,325.5 L185.5,322.5 L180,317.5 L176.25,312.5 L172.5,302.5 L166.25,296.25 L161.25,291.25Z M229,398.75 L228.12,391.25 L230,383.12 L233.75,377.5 L239.38,374.38 L241.25,376.25 L240.25,381.25 L241.25,387.5 L239.38,392.5 L240.62,395 L237.75,397.75 L235,399.75 L231.88,396.88 L230.62,396.25Z M212.5,438.75 L215,427.5 L218.75,422.5 L222.5,426.25 L227.5,421.25 L231.88,417.5 L233.75,425 L231.88,427.5 L234.38,431.88 L239.38,432.5 L243.75,437.5 L247.5,443.75 L246.88,448.75 L245,450 L238.75,449.38 L233.12,446.25 L228.75,447.5 L223.75,443.75 L217.5,441.88 L215.62,440Z M236.25,413.75 L239.38,415 L242.5,421.25 L243.12,426.25 L240,427.5 L238.12,422.5 L236.88,417.5Z M233.75,468.75 L236.25,464.5 L242.5,467.5 L248.75,472.5 L252.5,476.25 L251.25,486.25 L248,489.5 L242.5,482.5 L236.25,476.25Z M398,375 L405,370.5 L415,365 L425,360 L435,357 L440,358 L441.25,363.75 L445,367.5 L446.25,372.5 L455,377.5 L465,382.5 L470,387.5 L480,391.25 L490,392 L496.25,393.75 L495,398.75 L503,406.25 L500,412.5 L501.75,420 L504.25,427.5 L506.25,433.75 L511.25,438.75 L516.25,441.25 L522.5,441.75 L530,441.75 L530.5,450 L528,457.5 L523.75,461.25 L521.25,458.75 L518.75,456.25 L516.25,456.75 L515.5,460 L512.5,456.75 L510,455 L508,450 L503.75,447.5 L500,443.75 L497.5,438.75 L495,436.25 L494.25,431.25 L493,425 L490,420 L481.25,419 L472.5,418.75 L460.5,417.5 L457.5,410 L455,402.5 L447.5,397.5 L442.5,393.75 L435,387.5 L427.5,385 L420,378.75 L412.5,376.25 L405,377 L398.75,377.5Z M441.88,462.5 L443.12,457.5 L445,455.62 L450,453.12 L455.62,452.75 L456.25,455 L452.5,457.5 L451.25,461.25 L450,463.75 L446.25,466.25 L443.12,466.88Z M535,184.5 L542.5,188.75 L544.5,196.25 L543.75,202.5 L536.25,207 L527.5,202.5 L525,197 L527.5,190Z M595.5,216.25 L603.75,213 L612.5,216.25 L613.75,221.25 L605,224.5 L599.5,222Z M611.25,248.75 L618.75,242 L633.75,238.75 L636.25,247.5 L630,251.25 L617.5,253.75Z M565,264.5 L580,263 L582,267.5 L586.25,266.25 L594.5,259.5 L595,265 L590,272.5 L587,277.5 L588.75,283 L583.75,283.75 L581.25,277.5 L580,272.5 L576.25,275 L577.5,282.5 L572.5,282.5 L572,278.75 L565.5,279.5 L567,272.5Z M633.75,278.75 L640,277.5 L643,281.25 L639.5,283.75Z M751.25,200.5 L758.75,198 L767,201.25 L760,206.25 L752.5,205Z M763,213 L770,212 L780,213 L789.5,217 L787.5,220 L778.75,225 L777,226.25 L770,222 L765,218Z M625,335 L631.25,332 L640,330 L650,325 L662.5,323.75 L663.75,327.5 L667.5,328.75 L666.25,333.75 L670,337.5 L676.25,345 L681.25,353.75 L682.5,358 L675,362.5 L667.5,363.75 L660,361.25 L652.5,357.5 L646.25,355 L642.5,351.25 L637.5,352 L633.75,348.75 L630,345 L626.25,341.25Z M624.5,403.75 L627.5,400 L637.5,398.75 L645,402.5 L648,410 L648.75,422.5 L645,430 L642.5,436.25 L637.5,441.25 L627.5,433.75 L630,427.5 L633.75,425 L631.25,415 L626.25,408.75Z M538,460 L543.75,456.25 L551.25,460 L557.5,467.5 L560.5,475 L560,483.75 L557.5,485 L552.5,478.75 L546.25,472.5 L541.25,467.5Z M680,482.5 L682.5,477.5 L690,475 L697.5,474.5 L705,477.5 L712.5,478 L716.25,481.25 L712.5,485 L706.25,486.25 L700,490 L695,488.75 L687.5,486.25 L681.25,485.5Z M635,501.25 L640,493.75 L650,490 L658.75,487 L663.75,486.25 L660,492.5 L655,496.25 L645,501.25 L637.5,503Z M561.25,487.5 L566.25,487.5 L575,490 L580.5,495 L580,501.25 L573.75,500 L567.5,496.25 L562.5,492Z M587.5,543 L600,533 L606.25,537.5 L607.5,547.5 L605,555 L596.25,558 L591.25,551.25Z M718.75,569.38 L721.25,563.75 L727.5,561.25 L735,560.62 L736.88,564.38 L730,566.88 L723.75,568.75Z M705.25,573.12 L708.75,572.5 L710,576.25 L708.75,580.62 L706,578.75Z M765,630 L770,622.5 L777.5,615 L786.25,608.75 L795,605 L803,601.25 L805,606.25 L802.5,615 L798.75,625 L793.75,631.25 L791.25,637.5 L782.5,643.75 L776.25,650 L768.75,655 L765.5,650 L766.25,640Z M717.5,682.5 L722.5,678.75 L726.25,682.5 L729.5,690 L726.25,695 L721.25,697.5 L718.75,692.5Z M403.75,612.5 L406.25,608.75 L410,611.25 L414.5,620 L416.25,627.5 L412.5,630.5 L407.5,628 L405,622.5Z M506.25,490 L510,487 L516.25,487.5 L515,493.75 L511.25,500 L507.5,502.5 L505.5,497.5Z M514.5,510 L518.75,505.5 L521.25,511.25 L520,517.5 L515,522.5 L513.75,516.25Z M448,708.75 L451.25,698.75 L455,680 L457.5,688.75 L465,688.75 L464.5,676.25 L467.5,672.5 L469.5,677.5 L470,686.25 L480,687.5 L490,686.25 L491.25,682.5 L497.5,681.25 L501.25,685 L500,691.25 L503.75,693.75 L515,696.25 L535,697.5 L547.5,696.25 L536.25,697 L545,697.5 L557.5,698 L560,696.25 L564.5,698.75 L565,703.75 L580,705 L592.5,707.5 L605,705 L616.25,703.75 L618.75,705.5 L616.25,711.25 L615.5,720 L620,725 L623.75,725 L625,720 L632.5,718.75 L640,715.5 L650,717.5 L656.25,716.25 L657.5,727.5 L652.5,733.75 L645,735.5 L637.5,733 L630,732.5 L620,735 L607.5,735.5 L595,736.25 L582.5,738.75 L570,741.25 L557.5,742 L542.5,743 L542,731.25 L535,727.5 L525,724.5 L541.25,730 L530,725 L515,718.75 L507.5,720 L495,718 L485,716.25 L470,714.5 L457.5,715 L451.25,712Z M552.5,510.5 L559.5,510.5 L559.5,514.5 L553.75,515.5Z M583.75,505 L591.25,503.75 L596.25,507.5 L590,512.5 L584.5,511.25Z M571.25,545 L578.75,544.5 L579.5,550.5 L572.5,551.25Z M657,588.75 L663.75,586.25 L670,590 L667.5,595 L660,596.25Z M512,578.75 L517.5,576.25 L523,578 L523.75,581.25 L517.5,583 L512.5,582.5Z M441.25,343 L446.25,340.5 L450,343 L448,347 L442.5,347.5Z M460,347 L465,346.25 L466.25,351.25 L462,352Z M522.5,367.5 L530,368 L530.5,373.75 L523.75,373Z M720,682.5 L721.25,675 L723.75,665 L726.25,660 L728.75,661.25 L727,670 L723.75,678.75 L723,682.5Z" fill="#bebebe" stroke="#222" stroke-width="0.8" stroke-linejoin="round"/>
<path d="M645,350 L648.75,342.5 L656.25,341.25 L657.5,345 L651.25,348Z M669.5,351.25 L672.5,348.75 L676.25,352.5 L673.75,356.25 L670.5,355Z" fill="#fff" stroke="#333" stroke-width="0.6"/>
<path d="M455.5,341.25 L460,342 L465,347.5 L470,347 L471.25,349.5 L467.5,353 L462,352.5 L457.5,347Z M475,345.5 L478.75,338.75 L483.75,332.5 L485.5,334.5 L482,342 L477.5,347Z M521.25,363 L527.5,365 L530,370 L536.25,375 L537.5,381.25 L531.25,383.75 L526.25,381.25 L527.5,377.5 L522.5,374.5 L519.5,370.5Z M559.5,313.75 L562,307 L566.25,306.25 L563.75,313.75 L560,316.25Z M602,400 L606.25,398 L608,403.75 L603.75,405Z M443.75,479.5 L448.75,478 L453.75,479.5 L452,485 L447.5,487.5 L444.5,483.75Z M518,536.25 L521.25,532 L526.25,531.25 L527.5,536.25 L523.75,540 L518.75,539.5Z M534.5,548 L538.75,547 L542.5,555 L541.25,560 L537,558Z M510,582.5 L513.75,575 L517.5,572.5 L520,575 L526.25,573.75 L527,580 L523.75,583.75 L515,584.5Z M525,567.5 L528.75,565 L532,568.75 L528.75,572.5 L525.5,571.25Z M552.5,503.75 L556.25,502.5 L558,510 L560,513.75 L555,515.5 L551.25,512.5Z M568.75,540 L576.25,537 L583.75,536.25 L582.5,546.25 L578.75,552 L571.25,552.5 L568.75,546.25Z M562,550 L567,546.25 L568,551.25 L564.5,556.25Z M580.5,572.5 L585.5,570 L592,576.25 L590,583.75 L583.75,581.25Z M618.75,568.75 L627.5,562.5 L635,557.5 L639.5,558 L638.75,561.25 L631.25,566.25 L622.5,572Z M587,601.25 L593,599.5 L598,604.5 L597.5,611.25 L591.25,613 L594.5,607Z M617,611.25 L620,606.25 L625.5,611.25Z M656.25,590 L661.25,587 L666.25,585 L672,591.25 L667.5,596.25 L660,596.25Z M549.5,586.25 L553.75,582.5 L559.5,586.25 L555,589.5Z M565.5,583.75 L571.25,578 L574.5,578.75 L570,584.5Z M693.75,532.5 L698.75,531.25 L703.75,538.75 L700,541.25 L695,537.5Z M704.5,544.5 L710,546.25 L715,552.5 L712.5,557.5 L707,555Z M721.25,587.5 L726.25,586.25 L727.5,591.25 L723,592.5Z M732.5,600 L738.75,599.5 L741.25,603.75 L735,605Z M768.75,586.25 L773.75,583.75 L777.5,590 L773.75,595 L770,592.5Z M667.5,493.75 L673.75,490 L678.75,496.25 L673.75,502 L670,498.75Z M676.25,515.5 L680,514.5 L679.5,524.5 L676.5,523.75Z M699.5,703 L703.75,697.5 L709.5,697 L707.5,703 L702,705.5Z M489.5,748.75 L493.75,747.5 L496.25,753 L492.5,754.5Z M196.25,337.5 L199.5,338.75 L202.5,343.75 L200,345Z M592.5,557.5 L600,555 L607.5,558.75 L612.5,563.75 L605,566.25 L595,563.75Z M725,660 L728.75,661.25 L727,670 L723.75,678.75 L721.25,682.5 L720,681.25 L723,667.5Z M705,578.75 L705.62,573.12 L711.25,572.5 L716.25,566.25 L722.5,561.25 L731.25,558.75 L736.25,560.62 L737.5,565 L730,567.5 L722.5,573.12 L716.25,573.75 L710,575 L709.38,580.62Z" fill="none" stroke="#222" stroke-width="0.8" stroke-linejoin="round"/>
<path d="M241.25,361.25 L245,360 L248.75,358.75 L255,358.75 L260,359.38 L265,358.75 L266.25,356.25 L270,356 L273.12,360 L273.5,363.75 L272.25,369.38 L267.5,370 L263.75,369.38 L260,366.5 L255,366.88 L251.25,368.75 L246.25,371 L243.5,369.75 L242.25,365.62Z M504.5,687.5 L512.5,686.25 L522.5,690 L532.5,695 L536.25,698.75 L535,705 L520,703 L506.25,702.5Z M566.25,693.75 L573.75,697.5 L585,705 L590.5,708.75 L586.25,715 L578.75,718 L572.5,712.5 L567.5,705Z M620,708.75 L623.75,712.5 L626.25,719.5 L621.25,718.75 L619.5,713.75Z M403,158.75 L405,158 L407,162 L410.5,163 L412,170 L410,174.5 L403.75,175 L402.5,165Z M250.25,385.25 L252.25,391.88 L254.38,397.25 L247.5,397.75 L245,396.88 L248.12,392.5Z" fill="#fd7e35" stroke="none"/>
<path d="M455,680 L453,690 L452,698.75 M505,692.5 L506.25,702.5 L520,703 L535,698.75 M565,704.5 L580,705.5 L592.5,706 M618.75,705 L616.25,711.25 L615.5,720 L620,725 L625,720 L632.5,718.75 L640,715.5 L652.5,717.5 L658.75,707.5 L657,727.5 M680,481.25 L685,476.25 L695,473.75 L700,474.5 M241.25,361.25 L243.75,363.75 L247.5,362.5 L251.25,363.75 L255,362.5 L260,363.75 L265,362.5 L270,360.62 L273.12,361.88 M242.5,370 L247.5,370.62 L252.5,368.5 L260,366.88 L263.75,370 L267.5,373.5 L269.38,370 L272.5,370 L274.38,373.12 M228.75,398.75 L230.62,396.25 L234.38,400 L238.12,398.12 L245,396.88 L250,398.75 L255,401.25 L260,405 L263.75,410 L267.5,413.75 L270,420 L272.5,426.25 M272.5,426.25 L278.75,426.88 L285,421.25 L287.5,417.5 M287.5,417.5 L292.5,420 L297.5,423.75 L303.75,426.25 L308.75,423.12 L315,424 L319.38,425.62 L317.5,432.5 L315,437.5 L310,440 L305,441.88 M228.12,410 L227.5,415 L222.5,420 L218.75,422.5 L216.25,427.5 L212.5,438.75 L217.5,441.88 M234.38,408.12 L236.88,411.25 L240,415 M250,473.75 L256.25,477.5 L260,483.75 L252.5,482.5 M275,461.25 L282.5,465 L285.5,475 L285.5,490 L295,492.5 L305,500 L311.25,510 L313.75,522.5 L308.75,530 L305,535 L307.5,546.25 L313.75,557.5 L316.25,568.75" fill="none" stroke="#222" stroke-width="0.8" stroke-linejoin="round"/>
<path d="M232.5,64.5 L232,71.25 L229,73.75 L230,77.5 L242.5,78 L244.5,72.5 L243.5,64.5 M229,75 L229.5,78.75 L229,85 L226.25,88.75 L228,106.25 L220.5,111.25 L228,125 L223,132.5 L225,142.5 L231.25,154.5 L235.5,156.25 L241.25,173 L246.25,175 L250,171.75 L257,173 L260,179.5 M260,179.5 L270,178.75 L277.5,176.25 L283.75,177.5 L292.5,173 L298.75,173 L305,177.5 L312,170.5 L320,171.25 L322.5,165 L330,155 L337.75,151.25 L341.25,149.5 L346.25,152 L353.75,148 L362.5,151.25 L381.25,152.5 L386.25,146.25 L390,150 L393,133.75 L395,130.5 L408.75,130.5 L425.5,132.5 L430,126.25 L435,124.5 L437,128 L444.5,124.5 L457.5,127 L467.5,122 L473.75,120 L480,117.5 L483.75,120.5 L490,118 L492.5,111.25 L501.25,112.5 L506.25,107.5 L509.5,113 L525,108 L531.25,121.25 L541.25,124.5 L546.25,129.5 L549.5,125.5 L556.25,124.5 L562.75,127.5 L571.25,133.75 L578.75,139.5 L583.75,141.25 L601.25,134.5 L603.75,133 L613.75,134.5 L622.5,130.5 L628,133.75 L647.5,128.75 L651.25,122 L648.75,116.25 L649.5,108.75 L646.25,106.25 L642,100 L641.25,93.75 L648.75,90 L661.25,93 M260,179.5 L258.75,187.5 L265,196.25 L265,205 L262.5,210 L257,216.25 L250,217 L245.5,222.5 L244.5,230 L240,236.25 L239.5,245 L237,253.75 L227.5,257 L221.25,256.25 L216.25,260 L210.5,265.5 L216.25,278.75 L216.25,283.75 L209.25,282.5 L208,285.5 L210,289.25 L203,293 L202.5,296.75 L193.75,295 L186.25,292.5 M408.75,130.5 L409.5,112.5 L407,102.5 L413,91.25 L408.75,86.25 L405,75 L402,64.5 M661.25,93 L663.75,83 L677,82 L680,69.5 L683.75,66.25 L692.5,67.5 L695,64.5 M742.5,64.5 L746.25,67.5 L753,73 L756.25,70 L763.75,68 L772.5,67 L773.75,64.5 M780,65 L787.75,67 L789.5,66.25 M661.25,93 L681.25,105 L683.75,130 L677.5,130.5 L669.5,138 L660.5,140 L659.5,150 L661.25,155 L660.5,158.75 L663.75,162.5 L662,170 L657.5,172 L651.25,180 L646.25,190 L640,191.25" fill="none" stroke="#111" stroke-width="1.1" stroke-linejoin="round"/>
<path d="M313.75,177.5 L316.25,187.5 L325,196.25 L328.75,210 L337.75,220 L338.75,220 L347.5,230 L348.75,237.5 L343.75,245 L335,257.5 L326.25,267.5 L330,277.5 L320,277.5 L305,274.5 L295,273 M244.5,230 L251.25,227.5 L260,245 L262.5,257.5 L267.5,260 L265,265 L272.5,275 L282.5,276.25 L290,277.5 L295,273.75 L310,275.5 L322.5,277.5 L330,277.5 L327.5,267.5 L337.75,257.5 M343.75,245 L351.25,245 L353,252.5 L360.5,246.25 L365,257.5 L372.5,261.25 L375,267.5 L381.25,268 L387.5,266.25 M458.75,127 L460,132.5 L465,136.25 L466.25,143.75 L475,151.25 L483.75,156.25 L486.25,154.5 L494.5,163 L493.75,172.5 L485,180 L476.25,185 M283.75,277.5 L278.75,282.5 L280,291.25 L271.25,293.75 L276.25,312.5 L283.75,323.75 L292.5,327.5 L290,338.75 L288,343.75 L291.25,345 M267.5,350 L275,348.75 L288,343.75 L292.5,338.75 L305,336.25 L312.5,337.5 L316.25,346.25 L323.75,350 L328.75,348.75 L332.5,357.5 L340,353.75 L347.5,347.5 L355,335 L358.75,337.5 L366.25,340 L373.75,347.5 L375,356.25 L383.75,355 L392.5,357.5 L402.5,361.25 L410,362 M291.25,345 L290,356.25 L298.75,362.5 L302.5,375 L305,376.25 L303.75,383.75 L310,387.5 L320,390 L322.5,386.25 L332.5,382.5 L337.5,383.75 L336.25,400 L332.5,410 L327.5,415 L326.25,418.75 M435,432.5 L440,431.25 L447.5,440 L451.25,442.5 L457.5,437.5 L460,427.5 L465,425 L480,426.25 L490,425 L495,432.5 M365,442.5 L363.75,452.5 L357.5,460 L353.75,472.5 M420,451.25 L422.5,457.5 L430,460 L440,458.75 M320,473.75 L327.5,470 L336.25,475 L352.5,473.75 L355,465 L360,457.5 L363.75,450 M320,473.75 L321.25,490 L320,495 L327.5,496.25 L335,503.75 L327.5,508.75 L326.25,513.75 L313.75,515 M434.38,432.5 L437.5,431.25 L440,435.62 L445,436.88 L448.75,441.88 L452.5,443.12 L457.5,438.75 L459.38,431.25 L462.5,425" fill="none" stroke="#6a6a6a" stroke-width="0.75" stroke-linejoin="round"/>
<text x="546" y="233.3" font-size="15" font-weight="bold" text-anchor="middle" fill="#111">7</text>
<text x="428" y="260.3" font-size="15" font-weight="bold" text-anchor="middle" fill="#111">7</text>
<text x="465" y="273.3" font-size="15" font-weight="bold" text-anchor="middle" fill="#111">7</text>
<text x="163" y="320.3" font-size="15" font-weight="bold" text-anchor="middle" fill="#111">7</text>
<text x="185" y="335.3" font-size="15" font-weight="bold" text-anchor="middle" fill="#111">8</text>
<text x="253" y="363.3" font-size="15" font-weight="bold" text-anchor="middle" fill="#111">7</text>
<text x="634" y="327.3" font-size="15" font-weight="bold" text-anchor="middle" fill="#111">7</text>
<text x="630" y="355.3" font-size="15" font-weight="bold" text-anchor="middle" fill="#111">7</text>
<text x="481" y="390.3" font-size="15" font-weight="bold" text-anchor="middle" fill="#111">7</text>
<text x="550" y="415.3" font-size="15" font-weight="bold" text-anchor="middle" fill="#111">8</text>
<text x="645" y="412.3" font-size="15" font-weight="bold" text-anchor="middle" fill="#111">7</text>
<text x="597" y="433.3" font-size="15" font-weight="bold" text-anchor="middle" fill="#111">8</text>
<text x="621" y="436.3" font-size="15" font-weight="bold" text-anchor="middle" fill="#111">8</text>
<text x="260" y="423.3" font-size="15" font-weight="bold" text-anchor="middle" fill="#111">8</text>
<text x="185" y="429.3" font-size="15" font-weight="bold" text-anchor="middle" fill="#111">8</text>
<text x="297" y="442.3" font-size="15" font-weight="bold" text-anchor="middle" fill="#111">7</text>
<text x="402" y="450.3" font-size="15" font-weight="bold" text-anchor="middle" fill="#111">7</text>
<text x="97" y="470.3" font-size="15" font-weight="bold" text-anchor="middle" fill="#111">8</text>
<text x="194" y="466.3" font-size="15" font-weight="bold" text-anchor="middle" fill="#111">9</text>
<text x="243" y="471.3" font-size="15" font-weight="bold" text-anchor="middle" fill="#111">7</text>
<text x="268" y="476.3" font-size="15" font-weight="bold" text-anchor="middle" fill="#111">8</text>
<text x="558" y="468.3" font-size="15" font-weight="bold" text-anchor="middle" fill="#111">7</text>
<text x="699" y="479.3" font-size="15" font-weight="bold" text-anchor="middle" fill="#111">7</text>
<text x="489" y="496.3" font-size="15" font-weight="bold" text-anchor="middle" fill="#111">7</text>
<text x="531" y="499.3" font-size="15" font-weight="bold" text-anchor="middle" fill="#111">8</text>
<text x="128" y="525.3" font-size="15" font-weight="bold" text-anchor="middle" fill="#111">7</text>
<text x="699" y="526.3" font-size="15" font-weight="bold" text-anchor="middle" fill="#111">8</text>
<text x="441" y="530.3" font-size="15" font-weight="bold" text-anchor="middle" fill="#111">7</text>
<text x="507" y="538.3" font-size="15" font-weight="bold" text-anchor="middle" fill="#111">8</text>
<text x="249" y="562.3" font-size="15" font-weight="bold" text-anchor="middle" fill="#111">9</text>
<text x="354" y="570.3" font-size="15" font-weight="bold" text-anchor="middle" fill="#111">7</text>
<text x="626" y="577.3" font-size="15" font-weight="bold" text-anchor="middle" fill="#111">8</text>
<text x="331" y="602.3" font-size="15" font-weight="bold" text-anchor="middle" fill="#111">8</text>
<text x="441" y="601.3" font-size="15" font-weight="bold" text-anchor="middle" fill="#111">8</text>
<text x="741" y="614.3" font-size="15" font-weight="bold" text-anchor="middle" fill="#111">7</text>
<text x="828" y="612.3" font-size="15" font-weight="bold" text-anchor="middle" fill="#111">7</text>
<text x="420" y="629.3" font-size="15" font-weight="bold" text-anchor="middle" fill="#111">8</text>
<text x="529" y="622.3" font-size="15" font-weight="bold" text-anchor="middle" fill="#111">8</text>
<text x="753" y="642.3" font-size="15" font-weight="bold" text-anchor="middle" fill="#111">8</text>
<text x="160" y="646.3" font-size="15" font-weight="bold" text-anchor="middle" fill="#111">8</text>
<text x="216" y="655.3" font-size="15" font-weight="bold" text-anchor="middle" fill="#111">8</text>
<text x="305" y="644.3" font-size="15" font-weight="bold" text-anchor="middle" fill="#111">7</text>
<text x="640" y="670.3" font-size="15" font-weight="bold" text-anchor="middle" fill="#111">8</text>
<text x="558" y="682.3" font-size="15" font-weight="bold" text-anchor="middle" fill="#111">7</text>
<text x="710" y="706.3" font-size="15" font-weight="bold" text-anchor="middle" fill="#111">7</text>
<text x="338" y="738.3" font-size="15" font-weight="bold" text-anchor="middle" fill="#111">7</text>
<text x="514" y="743.3" font-size="15" font-weight="bold" text-anchor="middle" fill="#111">7</text>
<text x="782" y="759.3" font-size="15" font-weight="bold" text-anchor="middle" fill="#111">7</text>
<text x="605" y="774.3" font-size="15" font-weight="bold" text-anchor="middle" fill="#111">7</text>
</g>
<line x1="73" y1="64.5" x2="975" y2="64.5" stroke="#000" stroke-width="1.1"/>
<line x1="52.3" y1="827.4" x2="975" y2="827.4" stroke="#000" stroke-width="1.1"/>
<line x1="73.8" y1="64" x2="73.8" y2="828" stroke="#444" stroke-width="1.8"/>
<line x1="973.9" y1="64" x2="973.9" y2="828" stroke="#444" stroke-width="1.8"/>
<line x1="52.3" y1="64.5" x2="74" y2="64.5" stroke="#000" stroke-width="1.1"/>
<text x="0" y="70.7" font-size="18.4" fill="#000">42°N</text>
<line x1="52.3" y1="164.3" x2="74" y2="164.3" stroke="#000" stroke-width="1.1"/>
<text x="0" y="170.5" font-size="18.4" fill="#000">41°N</text>
<line x1="52.3" y1="263.3" x2="74" y2="263.3" stroke="#000" stroke-width="1.1"/>
<text x="0" y="269.5" font-size="18.4" fill="#000">40°N</text>
<line x1="52.3" y1="360.3" x2="74" y2="360.3" stroke="#000" stroke-width="1.1"/>
<text x="0" y="366.5" font-size="18.4" fill="#000">39°N</text>
<line x1="52.3" y1="456.3" x2="74" y2="456.3" stroke="#000" stroke-width="1.1"/>
<text x="0" y="462.5" font-size="18.4" fill="#000">38°N</text>
<line x1="52.3" y1="551.3" x2="74" y2="551.3" stroke="#000" stroke-width="1.1"/>
<text x="0" y="557.5" font-size="18.4" fill="#000">37°N</text>
<line x1="52.3" y1="644.3" x2="74" y2="644.3" stroke="#000" stroke-width="1.1"/>
<text x="0" y="650.5" font-size="18.4" fill="#000">36°N</text>
<line x1="52.3" y1="737.3" x2="74" y2="737.3" stroke="#000" stroke-width="1.1"/>
<text x="0" y="743.5" font-size="18.4" fill="#000">35°N</text>
<line x1="52.3" y1="827.4" x2="74" y2="827.4" stroke="#000" stroke-width="1.1"/>
<text x="0" y="833.6" font-size="18.4" fill="#000">34°N</text>
<line x1="336.5" y1="827" x2="336.5" y2="849" stroke="#000" stroke-width="1.3"/>
<text x="336.7" y="875.3" font-size="18.4" text-anchor="middle" fill="#000">22°E</text>
<line x1="486.5" y1="827" x2="486.5" y2="849" stroke="#000" stroke-width="1.3"/>
<text x="486.7" y="875.3" font-size="18.4" text-anchor="middle" fill="#000">24°E</text>
<line x1="636.5" y1="827" x2="636.5" y2="849" stroke="#000" stroke-width="1.3"/>
<text x="636.7" y="875.3" font-size="18.4" text-anchor="middle" fill="#000">26°E</text>
<line x1="786.5" y1="827" x2="786.5" y2="849" stroke="#000" stroke-width="1.3"/>
<text x="786.7" y="875.3" font-size="18.4" text-anchor="middle" fill="#000">28°E</text>
<line x1="936.5" y1="827" x2="936.5" y2="849" stroke="#000" stroke-width="1.3"/>
<text x="936.7" y="875.3" font-size="18.4" text-anchor="middle" fill="#000">30°E</text>
<line x1="186.5" y1="827" x2="186.5" y2="830.5" stroke="#000" stroke-width="1.2"/>
<rect x="1003" y="26" width="35.5" height="120" fill="#900025"/>
<rect x="1003" y="146" width="35.5" height="120" fill="#a50021"/>
<rect x="1003" y="266" width="35.5" height="120" fill="#bd0026"/>
<rect x="1003" y="386" width="35.5" height="120" fill="#dc1b20"/>
<rect x="1003" y="506" width="35.5" height="120" fill="#fd5a2b"/>
<rect x="1003" y="626" width="35.5" height="120" fill="#fd7e35"/>
<rect x="1003" y="746" width="35.5" height="119.5" fill="#fff"/>
<line x1="1003" y1="146" x2="1038.5" y2="146" stroke="rgba(0,0,0,0.45)" stroke-width="1"/>
<line x1="1003" y1="266" x2="1038.5" y2="266" stroke="rgba(0,0,0,0.45)" stroke-width="1"/>
<line x1="1003" y1="386" x2="1038.5" y2="386" stroke="rgba(0,0,0,0.45)" stroke-width="1"/>
<line x1="1003" y1="506" x2="1038.5" y2="506" stroke="rgba(0,0,0,0.45)" stroke-width="1"/>
<line x1="1003" y1="626" x2="1038.5" y2="626" stroke="rgba(0,0,0,0.45)" stroke-width="1"/>
<line x1="1003" y1="746" x2="1038.5" y2="746" stroke="rgba(0,0,0,0.45)" stroke-width="1"/>
<rect x="1003" y="26" width="35.5" height="839.5" fill="none" stroke="rgba(120,120,120,0.55)" stroke-width="1"/>
<rect x="1003.5" y="746" width="35" height="119" fill="none" stroke="#aaa" stroke-width="1.2"/>
<text x="1043.6" y="164.8" font-size="26.3" fill="#000">12</text>
<text x="1043.6" y="284.8" font-size="26.3" fill="#000">11</text>
<text x="1043.6" y="404.8" font-size="26.3" fill="#000">10</text>
<text x="1043.6" y="524.8" font-size="26.3" fill="#000">9</text>
<text x="1043.6" y="644.8" font-size="26.3" fill="#000">8</text>
<text x="1043.6" y="764.8" font-size="26.3" fill="#000">7</text>
<text x="72.3" y="18.7" font-size="24.7" fill="#000">Max daily wind speed at 10-m (Beaufort)</text>
<text x="72.3" y="45.7" font-size="24.7" fill="#000">BOLAM 6 km</text>
<text x="975" y="40.7" font-size="24.9" text-anchor="end" fill="#000">Valid time: Sat 06 Apr 2019</text>
<text x="1059" y="925.5" font-size="21.5" text-anchor="end" fill="#000">National Observatory of Athens, Greece - meteo.gr</text>
<rect x="46" y="832.5" width="179" height="68" fill="#fcfcfc"/>
<path d="M64.4,848 L88.3,848 L105.2,865.3 L122,848 L146.5,848 L146.5,895 L124.7,895 L124.7,879.4 L111.5,891.5 Q105.2,896.5 99,891.5 L86.6,879.4 L86.6,895 L64.4,895 Z" fill="#0c0ccb"/>
<circle cx="64.4" cy="847.9" r="14.2" fill="#fdd100"/>
<text x="156.3" y="864" font-size="21.5" letter-spacing="0.6" fill="#1616cf">Meteo</text>
<text x="156.5" y="883" font-size="13" fill="#1616cf">Όλα για</text>
<text x="157" y="895" font-size="13" fill="#1616cf">τον καιρό</text>
</svg>
</body></html>
